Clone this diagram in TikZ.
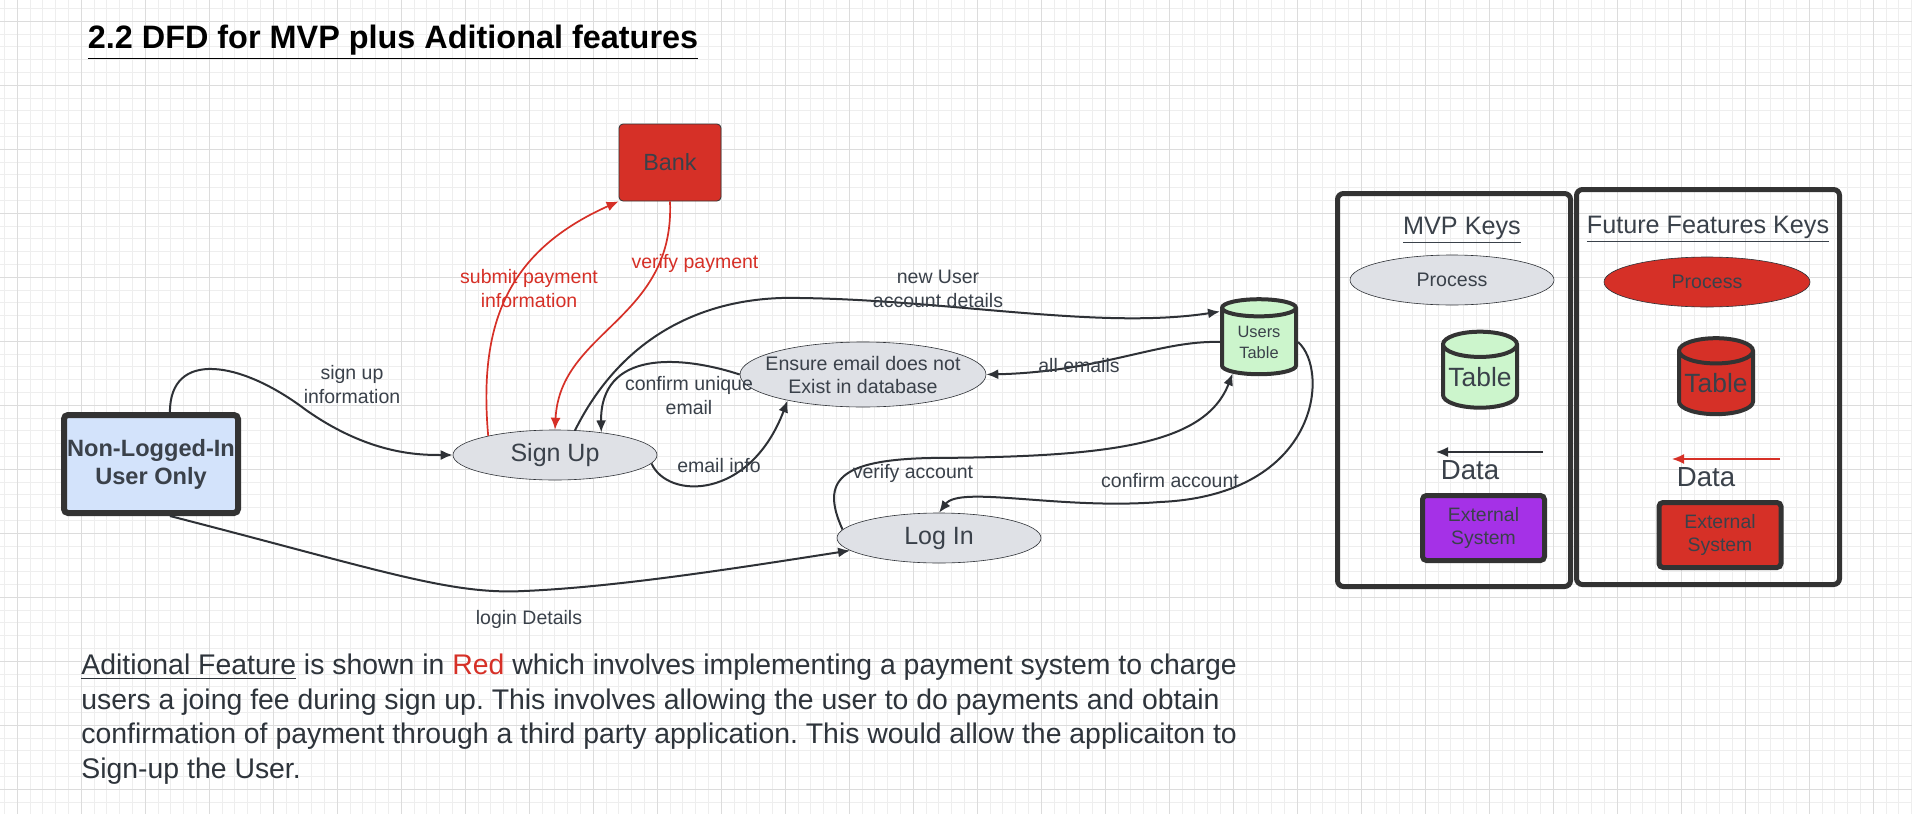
\documentclass[tikz,border=0pt]{standalone}
\usepackage{fontspec}
\setmainfont{Liberation Sans}
\usetikzlibrary{arrows.meta,positioning,shapes.geometric}

\definecolor{gridminor}{HTML}{EEEEEE}
\definecolor{gridmajor}{HTML}{DCDCDC}
\definecolor{inkgray}{HTML}{3A414A}
\definecolor{linegray}{HTML}{2E3136}
\definecolor{boxdark}{HTML}{333333}
\definecolor{procgray}{HTML}{DFE1E6}
\definecolor{payred}{HTML}{D63027}
\definecolor{tablegreen}{HTML}{CCF5CC}
\definecolor{userblue}{HTML}{D3E3FB}
\definecolor{extpurple}{HTML}{A531E7}

\begin{document}
\frenchspacing
\begin{tikzpicture}[
  x=0.5pt,y=-0.5pt,
  >={Latex[length=6pt,width=5pt]},
  flow/.style={->,line width=1pt,draw=linegray},
  payflow/.style={->,line width=0.85pt,draw=payred},
  process/.style={ellipse,draw=linegray,line width=0.3pt,fill=procgray,
    inner sep=0pt,text=inkgray,align=center},
  datatable/.style={cylinder,shape border rotate=90,aspect=0.4,draw=boxdark,
    line width=2pt,fill=tablegreen,inner sep=0pt,text=inkgray,align=center},
  extsys/.style={draw=boxdark,line width=2.5pt,rounded corners=2pt,
    fill=extpurple,text=inkgray,align=center,font=\fontsize{9.7}{11.5}\selectfont},
  keybox/.style={draw=boxdark,line width=2.5pt,rounded corners=3pt},
  flowlabel/.style={text=inkgray,align=center,inner sep=0pt,
    font=\fontsize{9.75}{12}\selectfont},
  paylabel/.style={flowlabel,text=payred}
]
  \fill[white] (0,0) rectangle (1912,814);
  \useasboundingbox (0,0) rectangle (1912,814);
  % background grid
  \foreach \i in {0,...,149}
    \draw[gridminor,line width=0.5pt] ({4.5+12.8*\i},0) -- ({4.5+12.8*\i},814);
  \foreach \i in {0,...,63}
    \draw[gridminor,line width=0.5pt] (0,{8.5+12.8*\i}) -- (1912,{8.5+12.8*\i});
  \foreach \i in {0,...,29}
    \draw[gridmajor,line width=0.7pt] ({17.3+64*\i},0) -- ({17.3+64*\i},814);
  \foreach \i in {0,...,12}
    \draw[gridmajor,line width=0.7pt] (0,{21.3+64*\i}) -- (1912,{21.3+64*\i});

  \node[font=\bfseries\fontsize{16.2}{19}\selectfont] (title) at (393,42)
    {\underline{2.2 DFD for MVP plus Aditional features}};

  % main diagram
  \node[draw=boxdark,line width=3pt,rounded corners=2pt,fill=userblue,
    minimum width=87pt,minimum height=49pt,inner sep=0pt,align=center,
    text=inkgray,font=\bfseries\fontsize{11.8}{14}\selectfont] (user) at (151,464)
    {Non-Logged-In\\User Only};
  \node[draw=boxdark,line width=0.4pt,rounded corners=2pt,fill=payred,
    minimum width=51pt,minimum height=38.5pt,text=inkgray,
    font=\fontsize{11.7}{14}\selectfont] (bank) at (670,162.5) {Bank};
  \node[process,minimum width=102pt,minimum height=25pt,
    font=\fontsize{12.5}{15}\selectfont] (signup) at (555,455) {Sign Up};
  \node[process,minimum width=123pt,minimum height=32.5pt,inner xsep=-6pt,
    font=\fontsize{9.8}{11.5}\selectfont] (ensure) at (863,374.5)
    {Ensure email does not\\Exist in database};
  \node[process,minimum width=102pt,minimum height=25pt,
    font=\fontsize{12.5}{15}\selectfont] (login) at (939,538) {Log In};
  \node[datatable,minimum width=37pt,minimum height=37.5pt,
    font=\fontsize{8.2}{10.5}\selectfont] (users) at (1259,342) {Users\\Table};

  \draw[flow] (user.70) .. controls (170,350) and (240,360) .. (306,410)
    .. controls (370,455) and (420,455) .. (signup.west);
  \draw[flow] (user.-70) .. controls (380,570) and (450,595) .. (524,591)
    .. controls (620,587) and (750,566) .. (login.188);
  \draw[payflow] (signup.164) .. controls (478,320) and (510,250) .. (bank.south west);
  \draw[payflow] (bank.south) .. controls (675,320) and (560,330) .. (signup.north);
  \draw[flow] (signup.51) .. controls (620,340) and (700,295) .. (800,298)
    .. controls (950,300) and (1100,330) .. (users.142);
  \draw[flow] (users.west) .. controls (1160,340) and (1100,372) .. (ensure.east);
  \draw[flow] (ensure.west) .. controls (680,355) and (600,350) .. (signup.26);
  \draw[flow] (signup.-5) .. controls (668,500) and (750,500) .. (ensure.199);
  \draw[flow] (login.175) .. controls (820,480) and (840,460) .. (930,458)
    .. controls (1110,457) and (1205,445) .. (users.230);
  \draw[flow] (users.east) .. controls (1330,370) and (1320,495) .. (1160,502)
    .. controls (1060,510) and (960,485) .. (login.north);

  \node[flowlabel] (signup-info) at (352,385) {sign up\\information};
  \node[flowlabel] (login-details) at (529,619) {login Details};
  \node[paylabel] (submit-pay) at (529,289) {submit payment\\information};
  \node[paylabel] (verify-pay) at (695,263) {verify payment};
  \node[flowlabel] (new-user) at (938,289) {new User\\account details};
  \node[flowlabel] (all-emails) at (1079,366) {all emails};
  \node[flowlabel] (unique-email) at (689,396) {confirm unique\\email};
  \node[flowlabel] (email-info) at (719,466) {email info};
  \node[flowlabel] (verify-acc) at (913,473) {verify account};
  \node[flowlabel] (confirm-acc) at (1170,481) {confirm account};

  % keys
  \node[keybox,minimum width=116.5pt,minimum height=196.5pt] (keymvp) at (1454,390) {};
  \node[keybox,minimum width=131.5pt,minimum height=197.5pt] (keyfuture) at (1708,387) {};
  \node[text=inkgray,font=\fontsize{12.6}{15}\selectfont] (mvp-title) at (1462,230)
    {\underline{MVP Keys}};
  \node[text=inkgray,font=\fontsize{12.6}{15}\selectfont] (future-title) at (1708,229)
    {\underline{Future Features Keys}};
  \node[process,minimum width=102pt,minimum height=25pt,
    font=\fontsize{9.8}{12}\selectfont] (proc-mvp) at (1452,280) {Process};
  \node[process,fill=payred,minimum width=103pt,minimum height=25pt,
    font=\fontsize{9.8}{12}\selectfont] (proc-future) at (1707,282) {Process};
  \node[datatable,minimum width=37pt,minimum height=38pt,
    font=\fontsize{13.2}{15}\selectfont] (table-mvp) at (1480,377) {Table};
  \node[datatable,fill=payred,minimum width=37pt,minimum height=38pt,
    font=\fontsize{13.2}{15}\selectfont] (table-future) at (1716,383.5) {Table};
  \coordinate (data-mvp-from) at (1543,452);
  \coordinate (data-mvp-to) at (1436,452);
  \coordinate (data-future-from) at (1780,459);
  \coordinate (data-future-to) at (1672,459);
  \draw[flow,line width=0.7pt] (data-mvp-from) -- (data-mvp-to);
  \draw[payflow,line width=0.7pt] (data-future-from) -- (data-future-to);
  \node[text=inkgray,font=\fontsize{13.8}{16}\selectfont] (data-mvp) at (1470,470) {Data};
  \node[text=inkgray,font=\fontsize{13.8}{16}\selectfont] (data-future) at (1706,477) {Data};
  \node[extsys,minimum width=61pt,minimum height=32.5pt] (ext-mvp) at (1483.5,528)
    {External\\System};
  \node[extsys,fill=payred,minimum width=61pt,minimum height=32.5pt] (ext-future)
    at (1720,535) {External\\System};

  % note
  \node[anchor=north west,inner sep=0pt,align=left,text=inkgray!80!black,
    font=\fontsize{14.2}{17.25}\selectfont] (note) at (81,654)
    {\underline{Aditional Feature} is shown in \textcolor{payred}{Red} which involves implementing a payment system to charge\\
     users a joing fee during sign up. This involves allowing the user to do payments and obtain\\
     confirmation of payment through a third party application. This would allow the applicaiton to\\
     Sign-up the User.};
\end{tikzpicture}
\end{document}
